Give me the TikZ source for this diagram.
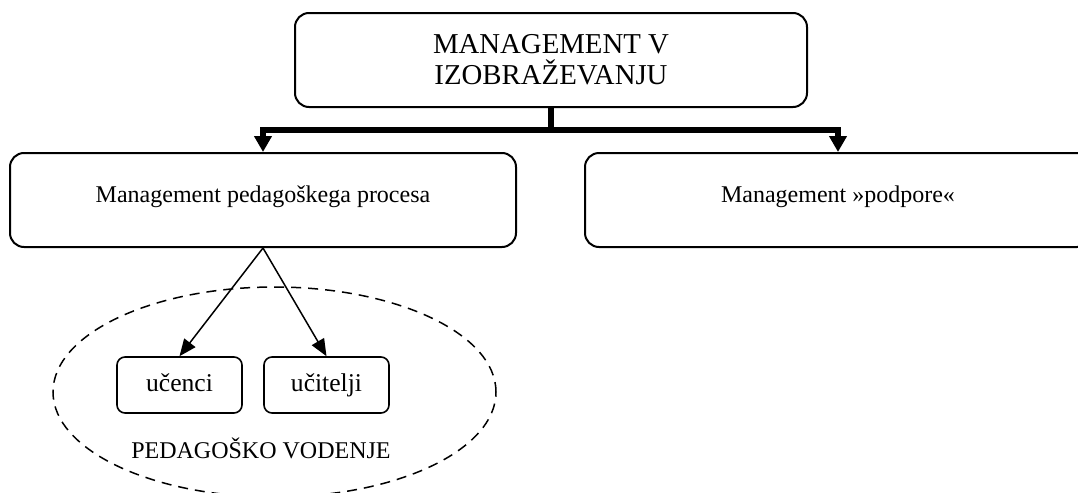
\documentclass[tikz,border=0pt]{standalone}
\usepackage{fontspec}
\setmainfont{Liberation Serif}
\usetikzlibrary{arrows.meta,shapes.geometric}
\tikzset{
  boxbase/.style={draw, line width=1pt, rounded corners=7pt, minimum height=47pt, inner sep=0pt},
  bigbox/.style={boxbase, font=\fontsize{12}{14}\selectfont, text height=0.7em, text depth=0.45em},
  titlebox/.style={boxbase, align=center, font=\fontsize{14.4}{15.5}\selectfont},
  smallbox/.style={draw, line width=0.8pt, rounded corners=4pt, minimum width=62.5pt, minimum height=28pt, inner sep=0pt,
    font=\fontsize{12.8}{15}\selectfont, text height=0.7em, text depth=0.05em},
  trunk/.style={line width=3pt},
  trunkarrow/.style={line width=3pt, -{Triangle[length=8pt,width=8.5pt]}},
  thinarrow/.style={line width=0.75pt, -{Triangle[length=8.5pt,width=7pt]}},
}
\begin{document}
\begin{tikzpicture}[x=0.5pt,y=-0.5pt]
\clip (0,0) rectangle (1078,493);
\node[titlebox, minimum width=256pt] (top) at (551,60) {MANAGEMENT V\\IZOBRAŽEVANJU};
\node[bigbox, minimum width=253pt] (left) at (263,200) {Management pedagoškega procesa};
\node[bigbox, minimum width=253pt] (right) at (838,200) {Management »podpore«};
\coordinate (j) at (551,130);
\draw[trunk] (top.south) -- (j);
\draw[trunkarrow] (j) -| (left.north);
\draw[trunkarrow] (j) -| (right.north);
\node[smallbox] (uc) at (179.5,385) {učenci};
\node[smallbox] (ut) at (326.5,385) {učitelji};
\draw[thinarrow] (left.south) -- (uc.north);
\draw[thinarrow] (left.south) -- (ut.north);
\node[draw, ellipse, dashed, dash pattern=on 5pt off 3.5pt, line width=0.75pt, minimum width=221.5pt, minimum height=105pt, inner sep=0pt] (pv) at (274.5,392) {};
\node[anchor=base, font=\fontsize{12}{14}\selectfont, inner sep=0pt] (pvlabel) at (261,458) {PEDAGOŠKO VODENJE};
\end{tikzpicture}
\end{document}
